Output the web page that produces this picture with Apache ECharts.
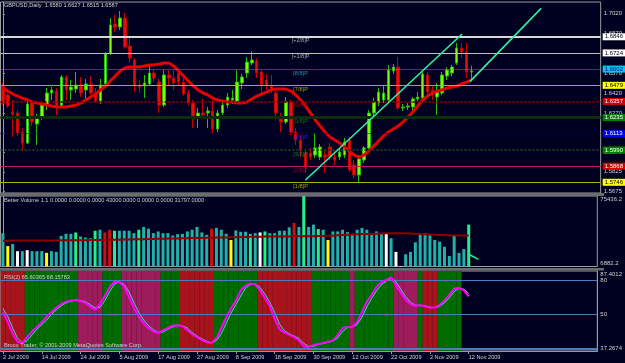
<!DOCTYPE html>
<html>
<head>
<meta charset="utf-8">
<script src="https://cdn.jsdelivr.net/npm/echarts@6/dist/echarts.min.js"></script>
<style>
  html, body { margin: 0; padding: 0; background: #000020; }
  #chart { width: 625px; height: 363px; }
</style>
</head>
<body>
<div id="chart"></div>
<script>
// date labels, one every 8 bars
var tickDates = ['2 Jul 2009', '14 Jul 2009', '24 Jul 2009', '5 Aug 2009', '17 Aug 2009', '27 Aug 2009',
  '8 Sep 2009', '18 Sep 2009', '30 Sep 2009', '12 Oct 2009', '22 Oct 2009', '2 Nov 2009', '12 Nov 2009'];

// daily candles [open, close, low, high]
var candles = [
  [1.6474,1.6345,1.6330,1.6497],[1.6406,1.6323,1.6308,1.6428],[1.6277,1.6262,1.6088,1.6368],[1.6270,1.6119,1.6096,1.6292],
  [1.6126,1.6043,1.5982,1.6156],[1.6043,1.6338,1.6035,1.6353],[1.6345,1.6202,1.6171,1.6368],[1.6187,1.6239,1.6028,1.6262],
  [1.6232,1.6330,1.6217,1.6345],[1.6330,1.6421,1.6292,1.6459],[1.6421,1.6444,1.6368,1.6466],[1.6436,1.6315,1.6255,1.6459],
  [1.6323,1.6542,1.6308,1.6557],[1.6542,1.6444,1.6368,1.6557],[1.6444,1.6466,1.6368,1.6519],[1.6451,1.6481,1.6421,1.6580],
  [1.6481,1.6421,1.6391,1.6542],[1.6444,1.6489,1.6376,1.6527],[1.6489,1.6421,1.6406,1.6549],[1.6421,1.6360,1.6345,1.6459],
  [1.6360,1.6481,1.6338,1.6527],[1.6489,1.6716,1.6474,1.6731],[1.6723,1.6935,1.6708,1.6988],[1.6943,1.6920,1.6882,1.7011],
  [1.6920,1.6988,1.6897,1.7041],[1.6988,1.6769,1.6754,1.7026],[1.6776,1.6686,1.6648,1.6837],[1.6670,1.6474,1.6428,1.6686],
  [1.6481,1.6466,1.6421,1.6519],[1.6474,1.6497,1.6383,1.6557],[1.6489,1.6572,1.6474,1.6633],[1.6572,1.6534,1.6504,1.6595],
  [1.6504,1.6330,1.6270,1.6527],[1.6330,1.6557,1.6315,1.6595],[1.6557,1.6534,1.6481,1.6595],[1.6534,1.6497,1.6444,1.6595],
  [1.6572,1.6504,1.6474,1.6610],[1.6504,1.6413,1.6398,1.6534],[1.6421,1.6345,1.6323,1.6444],[1.6345,1.6232,1.6156,1.6368],
  [1.6232,1.6270,1.6156,1.6308],[1.6270,1.6255,1.6232,1.6376],[1.6270,1.6285,1.6156,1.6315],[1.6285,1.6149,1.6111,1.6368],
  [1.6149,1.6270,1.6126,1.6292],[1.6270,1.6330,1.6255,1.6368],[1.6330,1.6391,1.6308,1.6421],[1.6368,1.6383,1.6338,1.6444],
  [1.6353,1.6504,1.6338,1.6595],[1.6497,1.6542,1.6451,1.6565],[1.6572,1.6655,1.6534,1.6693],[1.6648,1.6670,1.6633,1.6738],
  [1.6663,1.6572,1.6534,1.6686],[1.6580,1.6481,1.6421,1.6595],[1.6519,1.6481,1.6444,1.6565],[1.6481,1.6444,1.6421,1.6557],
  [1.6421,1.6270,1.6232,1.6444],[1.6224,1.6202,1.6126,1.6270],[1.6202,1.6353,1.6187,1.6391],[1.6353,1.6126,1.6103,1.6368],
  [1.6126,1.6066,1.6028,1.6156],[1.6066,1.5990,1.5937,1.6096],[1.5967,1.5861,1.5816,1.5990],[1.5967,1.5937,1.5914,1.6005],
  [1.5952,1.6005,1.5930,1.6119],[1.5937,1.6013,1.5914,1.6035],[1.5952,1.5937,1.5816,1.5990],[1.6013,1.5937,1.5914,1.6043],
  [1.5937,1.5914,1.5877,1.5990],[1.5937,1.5975,1.5914,1.6005],[1.5952,1.6050,1.5930,1.6081],[1.6066,1.5839,1.5824,1.6088],
  [1.5877,1.5801,1.5778,1.5914],[1.5801,1.5922,1.5748,1.5952],[1.5914,1.6005,1.5892,1.6020],[1.6005,1.6270,1.5990,1.6292],
  [1.6270,1.6353,1.6247,1.6383],[1.6345,1.6428,1.6323,1.6459],[1.6368,1.6421,1.6345,1.6481],[1.6368,1.6595,1.6353,1.6633],
  [1.6587,1.6617,1.6565,1.6640],[1.6617,1.6308,1.6292,1.6693],[1.6308,1.6315,1.6285,1.6338],[1.6315,1.6323,1.6292,1.6345],
  [1.6315,1.6376,1.6255,1.6391],[1.6376,1.6391,1.6353,1.6428],[1.6383,1.6565,1.6368,1.6580],[1.6557,1.6428,1.6391,1.6580],
  [1.6444,1.6406,1.6368,1.6481],[1.6391,1.6428,1.6255,1.6497],[1.6421,1.6557,1.6406,1.6580],[1.6549,1.6595,1.6519,1.6617],
  [1.6572,1.6617,1.6549,1.6633],[1.6648,1.6761,1.6633,1.6799],[1.6761,1.6731,1.6686,1.6799],[1.6731,1.6580,1.6534,1.6799],
  [1.6580,1.6587,1.6515,1.6627]
];

// red moving average
var ma = [1.6459,1.6436,1.6413,1.6398,1.6383,1.6368,1.6353,1.6345,1.6338,1.6330,
  1.6323,1.6315,1.6315,1.6315,1.6323,1.6330,1.6345,1.6368,1.6391,1.6413,
  1.6444,1.6474,1.6512,1.6549,1.6587,1.6610,1.6617,1.6617,1.6617,1.6625,
  1.6633,1.6633,1.6640,1.6648,1.6648,1.6625,1.6587,1.6549,1.6512,1.6474,
  1.6444,1.6421,1.6406,1.6383,1.6368,1.6360,1.6353,1.6353,1.6345,1.6345,
  1.6353,1.6376,1.6398,1.6413,1.6428,1.6444,1.6451,1.6451,1.6451,1.6436,
  1.6406,1.6368,1.6323,1.6270,1.6217,1.6171,1.6126,1.6088,1.6066,1.6043,
  1.6013,1.5982,1.5952,1.5937,1.5952,1.5982,1.6020,1.6058,1.6096,1.6126,
  1.6149,1.6171,1.6202,1.6239,1.6277,1.6323,1.6368,1.6398,1.6421,1.6436,
  1.6444,1.6459,1.6466,1.6474,1.6489,1.6504,1.6519];

// trend lines [bar position, price]
var trendA = [[62.0, 1.5763], [94.1, 1.6867]];
var trendB = [[95.7, 1.6507], [110.3, 1.7061]];

// Murrey math levels
var murreyNames = ['[+2/8]P', '[+1/8]P', '[8/8]P', '[7/8]P', '[6/8]P', '[5/8]P', '[4/8]P', '[3/8]P', '[2/8]P', '[1/8]P'];
var murreyLevels = [1.6846, 1.6724, 1.6602, 1.6479, 1.6357, 1.6235, 1.6113, 1.5990, 1.5868, 1.5746];
var priceTicks = [1.7020, 1.6870, 1.6720, 1.6570, 1.6420, 1.6270, 1.6120, 1.5970, 1.5825, 1.5675];

// Better Volume
var volumes = [39330,26750,28740,21780,21780,22780,21780,21780,21780,20130,
  21780,21120,36690,38670,38670,39990,36020,35030,34360,41650,
  42650,39990,42650,41650,41650,41650,41650,39330,42650,45330,
  43640,39330,40990,39330,39330,37010,38340,38670,40990,42650,
  45330,39990,37680,43640,44300,42650,38670,32710,41990,40660,
  40660,38340,39330,39990,40990,39330,39330,41650,41650,44935,
  49300,45330,75436.2,45330,47616,43300,42650,32710,40990,40990,
  42650,40330,38670,42650,44300,42650,37680,40990,38670,39330,
  34360,21120,7300,18800,21120,30390,37680,39330,37680,32710,
  31050,26090,17150,36690,20130,23770,47616];
var volColors = ['T','Y','T','W','T','W','T','T','T','Y',
  'T','T','T','T','T','G','T','T','T','G',
  'T','R','R','G','T','T','T','T','G','T',
  'T','T','T','T','T','T','T','T','T','T',
  'T','T','T','R','T','T','T','Y','T','T',
  'T','G','T','W','G','T','T','T','T','T',
  'R','T','G','T','T','G','T','Y','T','T',
  'T','T','T','T','T','T','T','T','T','W',
  'T','W','W','T','T','T','T','T','T','T',
  'T','T','T','T','T','T','G'];
var volAvg = [32000,32000,32050,32050,32100,32100,32150,32150,32200,32200,
  32250,32250,32300,32300,32350,32400,32450,32500,32550,32600,
  32700,32750,32800,32900,33000,33100,33200,33300,33400,33500,
  33600,33700,33800,33900,34000,34100,34200,34300,34400,34500,
  34600,34700,34800,34900,35000,35100,35200,35300,35400,35500,
  35600,35700,35800,35900,36000,36000,36000,36050,36100,36150,
  36200,36250,36300,36350,36400,36450,36500,36700,36900,37200,
  37500,37800,38100,38300,38400,38500,38600,38800,39000,39200,
  39300,39300,39300,39200,39000,38700,38400,38200,38000,37800,
  37600,37400,37300,37200,37100,37050,37000];
var volTail = [[96, 18800], [98, 13800]];
var volScale = [6882.2, 75436.2];
var volLegend = 'Better Volume 1.1 0.0000 0.0000 0.0000 43000.0000 0.0000 0.0000 31797.0000';

// RSI(2) and its signal
var rsi = [52,43,33,26,25,30,35,39,43,48,
  52,56,59,61,62,62.5,61.5,60,57,54,
  59,66,74,78.5,78,74,65,55,48,42,
  38,35,33.5,36,38,40,40.5,39.5,36,32.5,
  30,27.5,25.5,25,29,38,47,55,62,71,
  75,77,76,71,64,57,46,37,34,32,
  30,27.5,22,21.5,23,24,25,26,27,32,
  38,39,39,43,52,61,67,74,78,80,
  82.5,75.5,69,62.5,59,57.5,58,57,55.7,56,
  58,62,67,72.5,73,71,65.60365];
var rsiSignal = [55,48,38,29,25,27,32,37,41,45,
  50,54,57.5,60,61.5,62.5,62,61,58.5,55.5,
  56,62,70,76.5,78.5,76,69.5,60,51.5,45,
  40,36.5,34,34.5,37,39,40.5,40,38,34,
  31,28.5,26.5,25,27,33,42,51,58.5,66,
  73,76,76.5,73.5,67.5,60.5,51.5,41.5,35.5,33,
  31,29,24.5,22,22,23.5,24.5,25.5,26.5,29.5,
  35,38.5,39,41,47.5,56.5,64,70.5,76,79,
  81.5,78.5,72,65.5,60.5,58,57.8,57.5,56.3,55.8,
  57,60,64.5,70,72.8,72,68.15783];
// background zone per bar: R red, P crimson, G green, - none
var rsiZones = ('RRRRR' + 'GGGGGGGGGGG' + 'PPPPP' + 'GGGG' + 'PPPPPPPP' + 'GGGG' + 'RRRRRRR' +
  'GGGGGGGGG' + 'RRRRRRRRRRR' + 'GGGGGGGG' + 'P' + 'GGGGGGGG' + 'PPPPP' + 'G' + 'RRR' + 'GGGGG' + '--').split('');
var rsiLevels = [80, 50, 20];
var rsiScaleText = ['37.2674', '87.4012'];

// ---------- styles ----------
var FONT = 'Liberation Sans';
var TXT = '#d0d0d0';
var murreyStyle = [
  { line: '#d8d8d8', type: 'solid', width: 2, text: '#a8a8a8', box: '#ffffff', boxText: '#000000' },
  { line: '#c0c0c0', type: 'solid', width: 1, text: '#a8a8a8', box: '#ffffff', boxText: '#000000' },
  { line: '#10a8c8', type: 'dotted', width: 1, text: '#1898b8', box: '#00c8f0', boxText: '#000080' },
  { line: '#b0b000', type: 'solid', width: 1, text: '#a8a800', box: '#ffff00', boxText: '#000000' },
  { line: '#800000', type: 'dotted', width: 2, text: '#a00000', box: '#d00000', boxText: '#ffffff' },
  { line: '#0c2c0c', type: 'solid', width: 3, text: '#107010', box: '#008000', boxText: '#ffffff' },
  { line: '#000050', type: 'dotted', width: 1, text: '#2020ff', box: '#0000ff', boxText: '#ffffff' },
  { line: '#1c3c1c', type: 'dotted', width: 2, text: '#208020', box: '#008000', boxText: '#ffffff' },
  { line: '#c01a5a', type: 'solid', width: 1, text: '#a00020', box: '#d00000', boxText: '#ffffff' },
  { line: '#b0b000', type: 'solid', width: 1, text: '#a8a800', box: '#ffff00', boxText: '#000000' }
];
var volPalette = { T: '#20b2aa', G: '#22f08c', R: '#d01010', Y: '#ffff00', W: '#ffffff' };
var zonePalette = { R: '#a8141c', P: '#9c1c5c', G: '#006c00' };

// ---------- build ----------
var slots = [];
for (var i = 0; i < 123; i++) slots.push(String(i));

var last = candles[candles.length - 1];
var titleText = 'GBPUSD,Daily  ' + [last[0], last[3], last[2], last[1]].map(function (v) { return v.toFixed(4); }).join(' ');

var midLines = murreyLevels.map(function (lv, k) {
  var s = murreyStyle[k];
  return {
    yAxis: lv,
    lineStyle: { color: s.line, type: s.type, width: s.width },
    label: { show: true, position: 'insideMiddleBottom', distance: 1, formatter: murreyNames[k],
      color: s.text, fontSize: 5.6, fontFamily: FONT }
  };
});
var endLabels = murreyLevels.map(function (lv, k) {
  var s = murreyStyle[k];
  return {
    yAxis: lv,
    lineStyle: { color: 'rgba(0,0,0,0)', width: 0 },
    label: { show: true, position: 'end', distance: 2, formatter: lv.toFixed(4),
      color: s.boxText, backgroundColor: s.box, padding: [1, 4, 0, 2], fontSize: 6, fontFamily: FONT }
  };
});

var volData = volumes.map(function (v, k) {
  return { value: v, itemStyle: { color: volPalette[volColors[k]] } };
});
var rsiMin = 17.9, rsiMax = 87.9;
var zoneData = rsiZones.map(function (z) {
  return z === '-' ? null : { value: rsiMax, itemStyle: { color: zonePalette[z] } };
});

function dateTick(i) { return i % 8 === 0 && i / 8 < tickDates.length; }

var catAxis = function (g) {
  return { type: 'category', gridIndex: g, data: slots, boundaryGap: true,
    axisLine: { show: false }, axisTick: { show: false }, axisLabel: { show: false } };
};
var smallTitle = function (text, top) {
  return { text: text, left: 4, top: top, padding: 0,
    textStyle: { color: TXT, fontSize: 5.6, fontWeight: 'normal', fontFamily: FONT } };
};

var chart = echarts.init(document.getElementById('chart'));
chart.setOption({
  animation: false,
  backgroundColor: '#000020',
  textStyle: { fontFamily: FONT },
  title: [
    smallTitle(titleText, 2.5),
    smallTitle(volLegend, 197),
    smallTitle('RSI(2) ' + rsi[rsi.length - 1] + ' ' + rsiSignal[rsiSignal.length - 1], 274.5),
    smallTitle('Broco Trader, © 2001-2009 MetaQuotes Software Corp.', 342.5)
  ],
  grid: [
    { left: 0.5, right: 22, top: 2, height: 191, show: true, borderColor: '#9a9a9a', borderWidth: 1 },
    { left: 0.5, right: 22, top: 196, height: 70.5, show: true, borderColor: '#9a9a9a', borderWidth: 1 },
    { left: 0.5, right: 22, top: 271, height: 80, show: true, borderColor: '#9a9a9a', borderWidth: 1 }
  ],
  xAxis: [
    catAxis(0),
    catAxis(1),
    { type: 'category', gridIndex: 2, data: slots, boundaryGap: true,
      axisLine: { show: true, lineStyle: { color: '#9a9a9a' } },
      axisTick: { show: true, interval: dateTick, alignWithLabel: true, length: 3, lineStyle: { color: '#9a9a9a' } },
      axisLabel: { interval: dateTick, formatter: function (v, i) { return tickDates[i / 8] || ''; },
        align: 'left', margin: 3, color: TXT, fontSize: 5.6, fontFamily: FONT } },
    { type: 'value', gridIndex: 0, min: -0.5, max: slots.length - 0.5, show: false },
    { type: 'value', gridIndex: 1, min: -0.5, max: slots.length - 0.5, show: false }
  ],
  yAxis: [
    { type: 'value', gridIndex: 0, position: 'right', min: 1.5665, max: 1.7109,
      splitLine: { show: false },
      axisLine: { show: true, lineStyle: { color: '#9a9a9a' } },
      axisTick: { show: true, customValues: priceTicks, length: 2, lineStyle: { color: '#9a9a9a' } },
      axisLabel: { customValues: priceTicks, formatter: function (v) { return v.toFixed(4); },
        margin: 3, color: TXT, fontSize: 6, fontFamily: FONT } },
    { type: 'value', gridIndex: 1, position: 'right', min: volScale[0], max: volScale[1],
      splitLine: { show: false },
      axisLine: { show: true, lineStyle: { color: '#9a9a9a' } },
      axisTick: { show: false },
      axisLabel: { customValues: volScale, formatter: function (v) { return v.toFixed(1); },
        verticalAlignMinLabel: 'bottom', verticalAlignMaxLabel: 'top',
        margin: 3, color: TXT, fontSize: 6, fontFamily: FONT } },
    { type: 'value', gridIndex: 2, position: 'right', min: rsiMin, max: rsiMax,
      splitLine: { show: false },
      axisLine: { show: true, lineStyle: { color: '#9a9a9a' } },
      axisTick: { show: false },
      axisLabel: { customValues: [rsiMin, 50, 80, rsiMax],
        formatter: function (v) { return v === rsiMin ? rsiScaleText[0] : v === rsiMax ? rsiScaleText[1] : String(v); },
        verticalAlignMinLabel: 'bottom', verticalAlignMaxLabel: 'top',
        margin: 3, color: TXT, fontSize: 6, fontFamily: FONT } }
  ],
  graphic: [
    { type: 'rect', shape: { x: 0, y: 193, width: 604, height: 3 }, style: { fill: '#6c6c6c' }, z: 100 },
    { type: 'rect', shape: { x: 0, y: 268, width: 604, height: 2.5 }, style: { fill: '#6c6c6c' }, z: 100 }
  ],
  series: [
    { type: 'candlestick', xAxisIndex: 0, yAxisIndex: 0, data: candles, barWidth: 3, z: 3,
      itemStyle: { color: '#80ff00', color0: '#e41010', borderColor: '#22c000', borderColor0: '#c80000', borderWidth: 1 },
      markLine: { silent: true, symbol: 'none', precision: 4, animation: false, data: midLines } },
    { type: 'line', xAxisIndex: 0, yAxisIndex: 0, data: ma, symbol: 'none', z: 4,
      lineStyle: { color: '#e80000', width: 3 },
      markLine: { silent: true, symbol: 'none', precision: 4, animation: false, data: endLabels } },
    { type: 'line', xAxisIndex: 3, yAxisIndex: 0, data: trendA, symbol: 'none', z: 5,
      lineStyle: { color: '#30f0a0', width: 1.6 } },
    { type: 'line', xAxisIndex: 3, yAxisIndex: 0, data: trendB, symbol: 'none', z: 5,
      lineStyle: { color: '#30f0a0', width: 1.6 } },
    { type: 'bar', xAxisIndex: 1, yAxisIndex: 1, data: volData, barWidth: 3, z: 2 },
    { type: 'line', xAxisIndex: 1, yAxisIndex: 1, data: volAvg, symbol: 'none', z: 3,
      lineStyle: { color: '#8c0000', width: 2 } },
    { type: 'line', xAxisIndex: 4, yAxisIndex: 1, data: volTail, symbol: 'none', z: 3,
      lineStyle: { color: '#22f08c', width: 1.5 } },
    { type: 'bar', xAxisIndex: 2, yAxisIndex: 2, data: zoneData, barWidth: 5, z: 1 },
    { type: 'line', xAxisIndex: 2, yAxisIndex: 2, data: rsiSignal, symbol: 'none', z: 4,
      lineStyle: { color: '#40d8d0', width: 1 } },
    { type: 'line', xAxisIndex: 2, yAxisIndex: 2, data: rsi, symbol: 'none', z: 5,
      lineStyle: { color: '#ff00ff', width: 2 },
      markLine: { silent: true, symbol: 'none', animation: false, label: { show: false },
        data: rsiLevels.map(function (lv) {
          return { yAxis: lv, lineStyle: { color: '#4a7cc0', type: 'solid', width: lv === 20 ? 2 : 1 } };
        }) } }
  ]
});
</script>
</body>
</html>
